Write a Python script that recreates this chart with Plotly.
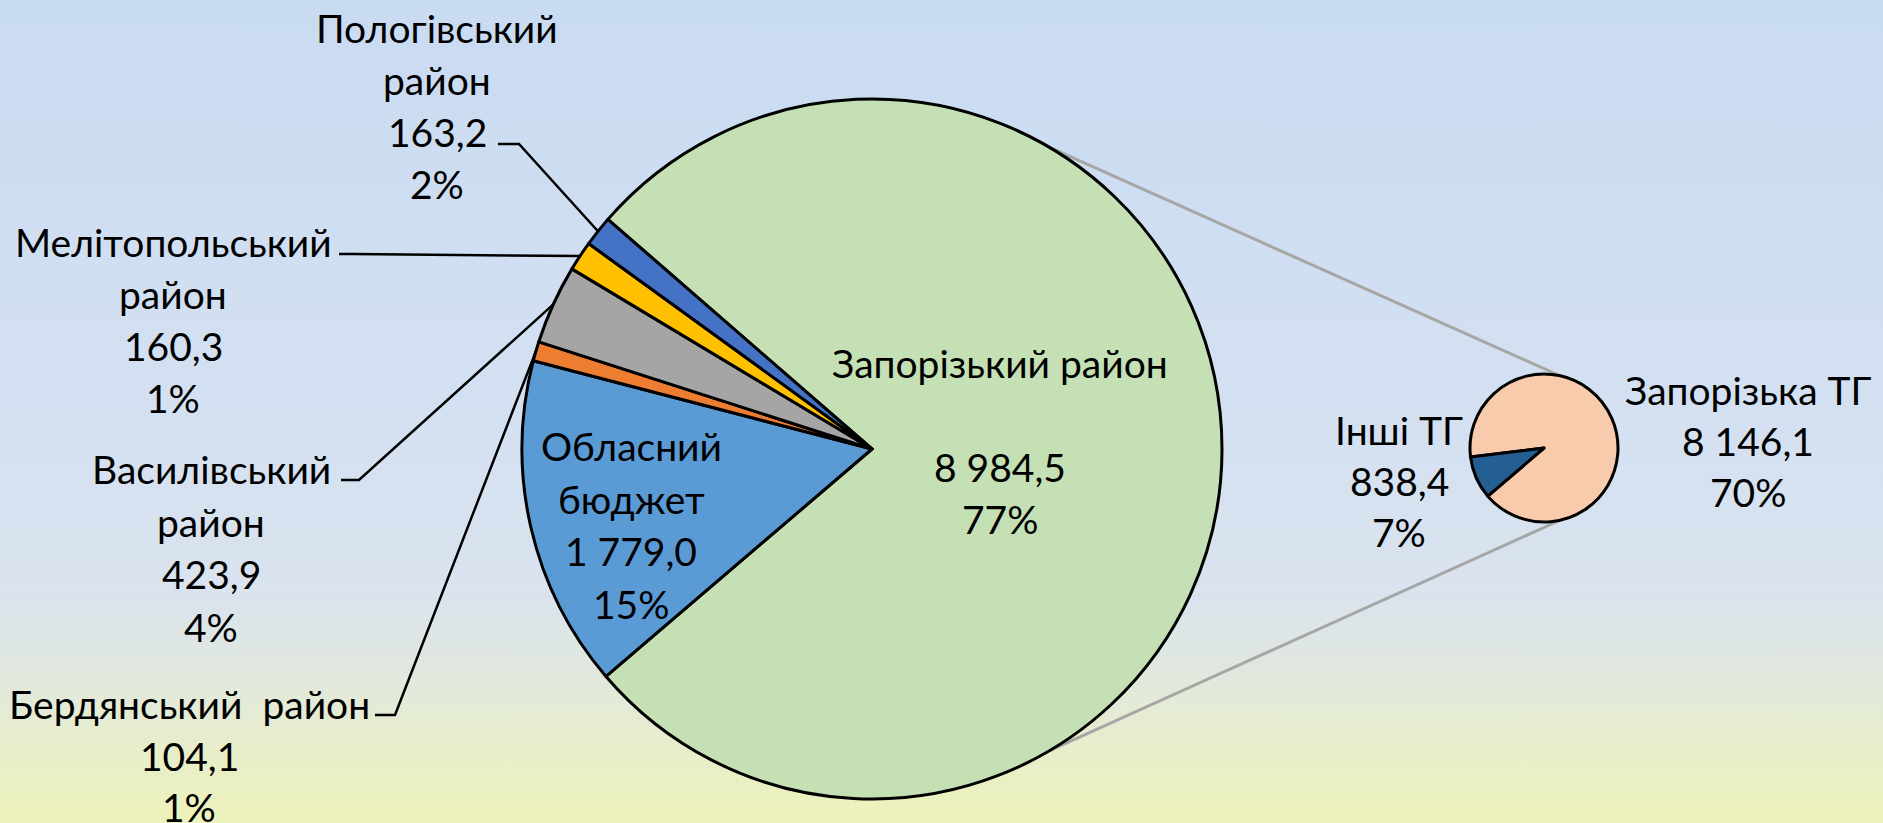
import base64
import math
import plotly.graph_objects as go

W, H = 1883, 823

# ---------------- data ----------------
main_labels = ["Запорізький район", "Обласний бюджет", "Бердянський район",
               "Василівський район", "Мелітопольський район", "Пологівський район"]
main_display = ["Запорізький район<br>", "Обласний<br>бюджет", "Бердянський\u00a0 район",
                "Василівський<br>район", "Мелітопольський<br>район", "Пологівський<br>район"]
main_values = [8984.5, 1779.0, 104.1, 423.9, 160.3, 163.2]
main_pct = [77, 15, 1, 4, 1, 2]
main_colors = ["#C5E0B4", "#5B9BD5", "#ED7D31", "#A5A5A5", "#FFC000", "#4472C4"]

sub_labels = ["Запорізька ТГ", "Інші ТГ"]
sub_display = ["Запорізька ТГ", "Інші ТГ"]
sub_values = [8146.1, 838.4]
sub_pct = [70, 7]
sub_colors = ["#F8CBAD", "#255E91"]

# ---------------- layout constants (pixels) ----------------
MAIN_C, MAIN_R, MAIN_ROT = (872, 449), 350, -49
SUB_C, SUB_R, SUB_ROT = (1544, 448), 74, 263
FONT = dict(family="Lato, Roboto, 'Noto Sans', sans-serif", size=39, color="#000000")

# label placement: (x centre, first line y, line spacing)
main_label_pos = [(1000, 363, 52), (631, 446, 52.5), (189, 704, 51.5),
                  (211, 469, 52.5), (173, 242, 52), (437, 27.5, 52.3)]
sub_label_pos = [(1748, 390, 51), (1399, 430, 51)]
# leader ticks for outside labels: index -> (x0, x1, y)
leader_ticks = {2: (375, 395, 715), 3: (341, 359, 480), 4: (339, 352, 254), 5: (498, 519, 144)}


def px(x):
    return x / W


def py(y):
    return 1 - y / H


def fmt(v):
    return f"{v:,.1f}".replace(",", " ").replace(".", ",")


def domain(c, r):
    return dict(x=[px(c[0] - r), px(c[0] + r)], y=[py(c[1] + r), py(c[1] - r)])


def mid_edge(values, i, c, r, rot):
    tot = sum(values)
    before = sum(values[:i])
    ang = math.radians(rot + 360 * (before + values[i] / 2) / tot)
    return c[0] + r * math.sin(ang), c[1] - r * math.cos(ang)


def clock_point(c, r, deg):
    a = math.radians(deg)
    return c[0] + r * math.sin(a), c[1] - r * math.cos(a)


fig = go.Figure()
fig.add_trace(go.Pie(
    labels=main_labels, values=main_values, sort=False, direction="clockwise",
    rotation=MAIN_ROT, textinfo="none", hoverinfo="label+value", showlegend=False,
    marker=dict(colors=main_colors, line=dict(color="#000000", width=3)),
    domain=domain(MAIN_C, MAIN_R)))
fig.add_trace(go.Pie(
    labels=sub_labels, values=sub_values, sort=False, direction="clockwise",
    rotation=SUB_ROT, textinfo="none", hoverinfo="label+value", showlegend=False,
    marker=dict(colors=sub_colors, line=dict(color="#000000", width=3)),
    domain=domain(SUB_C, SUB_R)))

annotations = []


def add_block(lines, pos):
    x, y0, sp = pos
    for k, t in enumerate(lines):
        if t == "":
            continue
        annotations.append(dict(x=px(x), y=py(y0 + k * sp), xref="paper", yref="paper",
                                text=t, showarrow=False, xanchor="center", yanchor="middle",
                                font=FONT))


for i in range(len(main_values)):
    lines = main_display[i].split("<br>") + [fmt(main_values[i]), f"{main_pct[i]}%"]
    add_block(lines, main_label_pos[i])
for i in range(len(sub_values)):
    lines = sub_display[i].split("<br>") + [fmt(sub_values[i]), f"{sub_pct[i]}%"]
    add_block(lines, sub_label_pos[i])

shapes = []
# series (connector) lines between the two pies
for m_ang, s_ang in [(30.6, 12.5), (149.4, 167.5)]:
    x0, y0 = clock_point(MAIN_C, MAIN_R, m_ang)
    x1, y1 = clock_point(SUB_C, SUB_R, s_ang)
    shapes.append(dict(type="line", xref="paper", yref="paper", x0=px(x0), y0=py(y0),
                       x1=px(x1), y1=py(y1), line=dict(color="#A6A6A6", width=3),
                       layer="below"))
# leader lines
for i, (tx0, tx1, ty) in leader_ticks.items():
    ex, ey = mid_edge(main_values, i, MAIN_C, MAIN_R, MAIN_ROT)
    path = f"M {px(tx0)} {py(ty)} L {px(tx1)} {py(ty)} L {px(ex)} {py(ey)}"
    shapes.append(dict(type="path", xref="paper", yref="paper", path=path,
                       line=dict(color="#000000", width=2.5), layer="below"))

# gradient background
stops = [(0, "#C9DBF2"), (0.55, "#D5E1F1"), (0.72, "#DAE3EE"), (0.82, "#E1E8DE"),
         (0.9, "#E7EDCC"), (1, "#EDF2BA")]
stop_xml = "".join(f'<stop offset="{o}" stop-color="{c}"/>' for o, c in stops)
svg = (f'<svg xmlns="http://www.w3.org/2000/svg" width="{W}" height="{H}" '
       f'preserveAspectRatio="none"><defs><linearGradient id="g" x1="0" y1="0" x2="0" y2="1">'
       f'{stop_xml}</linearGradient></defs><rect width="{W}" height="{H}" fill="url(#g)"/></svg>')
src = "data:image/svg+xml;base64," + base64.b64encode(svg.encode()).decode()

fig.update_layout(
    width=W, height=H, margin=dict(l=0, r=0, t=0, b=0),
    paper_bgcolor="#D5E1F1", plot_bgcolor="rgba(0,0,0,0)",
    annotations=annotations, shapes=shapes,
    images=[dict(source=src, xref="paper", yref="paper", x=0, y=1, sizex=1, sizey=1,
                 xanchor="left", yanchor="top", sizing="stretch", layer="below")],
)

fig.write_html("out.html", config={"displayModeBar": False},
               post_script="document.body.style.margin='0';document.body.style.overflow='hidden';")
